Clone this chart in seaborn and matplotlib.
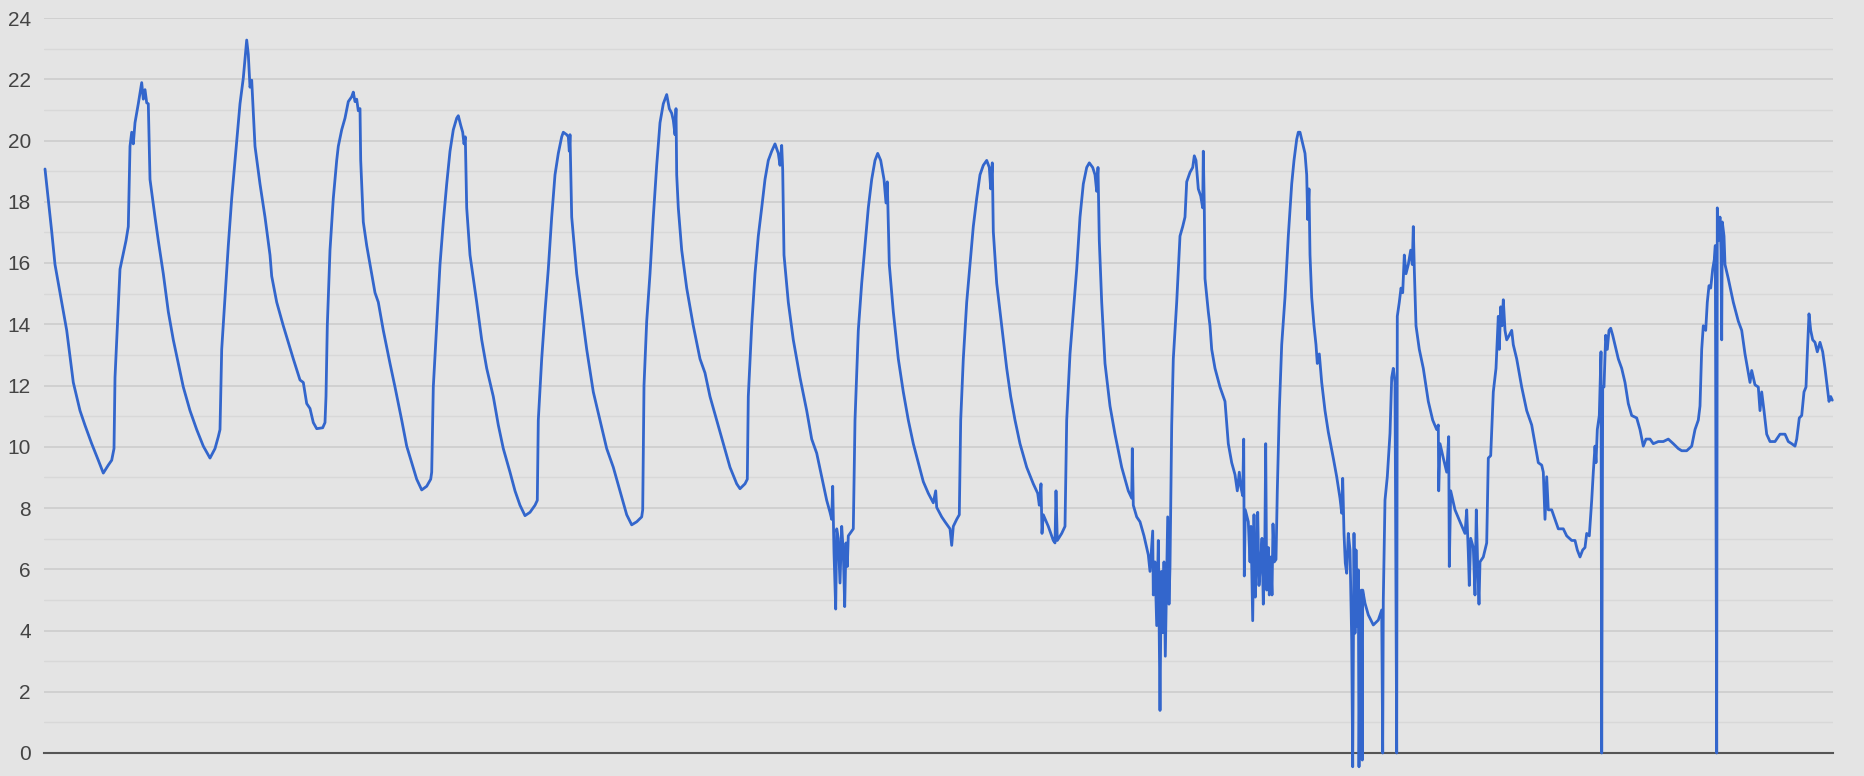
import matplotlib
matplotlib.use("Agg")
import matplotlib.pyplot as plt
import seaborn as sns
import pandas as pd
from matplotlib.ticker import MultipleLocator

# sample position along the (unlabelled) time axis and the temperature value
sample_t = [
    1, 7.7, 11, 17.7, 22.7, 29.3, 36, 41, 47.7, 54.3, 59.3, 64.3, 67.7, 70, 71, 76, 82, 84.3, 86, 87.7,
    89.3, 91, 94.3, 97.7, 99.3, 101, 102.7, 104.3, 106, 111, 114.3, 119.3, 124.3, 129.3, 134.3, 139.3,
    146, 152.7, 159.3, 166, 171, 174.3, 176, 177.7, 181, 184.3, 187.7, 192.7, 196, 199.3, 202.7, 204.3,
    206, 207.7, 211, 216, 221, 226, 227.7, 232.7, 239.3, 249.3, 256, 259.3, 262.7, 266, 269.3, 272.7,
    278.7, 281, 282, 283.3, 286, 289.3, 292.7, 294.3, 297.7, 301,
    304.3, 307.7, 309.3, 311, 312.7, 314.3, 316, 316.7, 319.3, 322.7, 327.7, 331, 334.3, 339.3, 346, 351,
    357.7, 362.7, 367.7, 372.7, 377.7, 382.7, 386.7, 387.7, 389.3, 392.7, 396, 399.3, 402.7, 406, 409.3,
    412.7, 414.3, 416.7, 418.7, 420, 421.3, 422.7, 426, 429.3, 432.7, 437.7, 442.7, 449.3, 454.3, 459.3,
    466, 471, 476, 481, 486, 491, 493.3, 494.3, 497.7, 501, 504.3, 507.7, 511, 514.3, 517.7, 519.3, 522.7,
    524.3, 525.3, 526, 527.7, 532.7, 537.7, 542.7, 549.3, 556, 562.7, 569.3, 576, 582.7, 587.7, 592.7,
    597.7, 598.7, 600,
    602.7, 606, 609.3, 612.7, 616, 619.3, 622.7, 625.3, 627.7, 629.3, 631, 632, 632.7, 634.3, 637.7, 642.7,
    649.3, 656, 661, 666, 672.7, 679.3, 686, 692.7, 696, 701, 703.3, 704.3, 707.7, 711, 714.3, 717.7, 721,
    724.3, 727.7, 731, 734.3, 736, 737.7, 738.7, 740, 744.3, 749.3, 756, 762.7, 767.7, 772.7, 777.7, 782.7,
    786, 787.7, 788.7, 790, 791.7, 792.7, 794.3, 796, 797.7, 799.3, 800.7, 802, 803.3, 804.3, 807.7, 809.3,
    811, 814.3, 817.7, 821, 824.3, 827.7, 831, 833.7, 836.7, 840, 842, 843.3, 845.3, 849.3, 854.3, 859.3,
    864.3, 869.3, 874.3, 879.3, 884.3, 889.3, 891.7, 892.7, 897.7,
    901, 904.3, 906, 907.7, 909.3, 912.7, 915.3, 916.7, 919.3, 922.7, 926, 929.3, 932.7, 936, 939.3, 942.7,
    945.3, 946.7, 948.3, 949.3, 952.7, 957.7, 962.7, 966.7, 971, 976, 982.7, 989.3, 993.7, 995.3, 997, 998,
    999.3, 1004.3, 1009.3, 1011, 1012, 1013.3, 1017.7, 1021, 1022.7, 1026, 1029.3, 1032.7, 1036, 1039.3,
    1042.7, 1045.3, 1048.7, 1051, 1052.7, 1054, 1055.3, 1057.7, 1058.7, 1061, 1066, 1071, 1077.7, 1084.3,
    1087.7, 1088.3, 1089.3, 1092.7, 1096, 1100, 1104.3, 1106, 1108.7, 1109.3, 1111, 1112.7, 1114.3, 1116,
    1117.3, 1118.7, 1120, 1121.3, 1122.7, 1123.7, 1125, 1126, 1127.7, 1129.3, 1132.7, 1136, 1138.7, 1141,
    1142.7, 1146, 1148.7, 1150.3, 1152, 1154.3, 1156.7, 1158.7, 1159.3, 1160.3, 1161, 1164.3, 1166, 1167.7,
    1171, 1176, 1181, 1184.3, 1187.7, 1191, 1193.3, 1195.3, 1196.7, 1198.7, 1199.7, 1200.3, 1201.3, 1204.3,
    1206,
    1207, 1208.7, 1210, 1211.3, 1212.7, 1213.7, 1215, 1216.7, 1218, 1219.3, 1220.7, 1221.7, 1222.7, 1224.3,
    1225.3, 1226.7, 1228, 1229, 1230.3, 1232, 1233.3, 1235.3, 1237.7, 1241, 1244.3, 1247.7, 1250, 1252.7,
    1254.3, 1256, 1258.7, 1261, 1262.7, 1263.7, 1265, 1266, 1267.7, 1270, 1272, 1273.3, 1275.3, 1277.7,
    1281, 1284.3, 1289.3, 1292.7, 1296,
    1297.7, 1298.7, 1300, 1301.3, 1302.7, 1304.3, 1306, 1307.7, 1308.7, 1310, 1311, 1312, 1313.3, 1314.3,
    1315, 1316, 1317.3, 1318.3, 1318.7, 1321, 1324.3, 1329.3, 1334.3, 1337.7, 1338.7, 1339.3, 1341,
    1343.3, 1346,
    1347.7, 1349.3, 1351, 1352.7, 1353.3, 1355.3, 1357, 1358.7, 1360.3, 1362, 1364.3, 1366.7, 1368.3,
    1369.3, 1370.3, 1372, 1375.3, 1379.3, 1384.3, 1388.7, 1392.7, 1394.3, 1394.7, 1396, 1399.3, 1402.7,
    1404.7, 1405.3, 1406.7, 1411, 1416, 1421, 1422.7, 1424.3, 1425.3, 1426.7, 1429.3, 1431, 1432.3, 1433.7,
    1435, 1436, 1439.3, 1442.7, 1444.3, 1446.7, 1449.3, 1452, 1454.3, 1455.3, 1456.7, 1458, 1459.3, 1461,
    1462.7, 1465.3, 1467.7, 1469.3, 1472.7, 1477.7, 1482.7, 1487.7, 1491, 1494.3,
    1497.7, 1499.3, 1501, 1502.7, 1504.3, 1507.7, 1511, 1514.3, 1519.3, 1522.7, 1527.7, 1531, 1533.3, 1536,
    1538.7, 1541, 1542.7, 1545.3, 1547.7, 1549.3, 1551, 1552, 1553.3, 1555.3, 1557, 1557.7, 1558.7, 1560,
    1561.7, 1563.3, 1565, 1566.7, 1568.7, 1571, 1574.3, 1577.7, 1581, 1584.3, 1587.7, 1592.7, 1596, 1599.3,
    1602, 1606, 1609.3, 1614.3, 1619.3, 1624.3, 1629.3, 1634.3, 1637.7, 1642.7, 1647.7, 1651, 1654.3, 1656,
    1657.7, 1659.3, 1661.7, 1663.3, 1665, 1666.7, 1668.7, 1670.3, 1671.3, 1672.7, 1673.3, 1674.3, 1676,
    1677, 1677.7, 1678.3, 1680, 1681, 1684.3, 1689.3, 1694.3, 1697.7, 1701, 1704.3, 1706, 1707.7, 1711,
    1714.3, 1716, 1717.7, 1720, 1722.7, 1726, 1731, 1736, 1741, 1744.3, 1747.7, 1751, 1752.7, 1755.3,
    1757.7, 1760, 1762, 1763.3, 1765, 1766.7, 1768.7, 1771, 1773.3, 1776, 1778.7, 1781, 1783.3, 1785,
    1786.7, 1788.3,
]

temp_c = [
    19.07, 17.03, 15.95, 14.72, 13.80, 12.10, 11.18, 10.70, 10.10, 9.56, 9.14, 9.40, 9.56, 9.94, 12.26,
    15.80, 16.73, 17.19, 19.81, 20.27, 19.89, 20.58, 21.20, 21.89, 21.35, 21.66, 21.23, 21.20, 18.73,
    17.50, 16.73, 15.65, 14.41, 13.49, 12.72, 11.95, 11.18, 10.56, 10.02, 9.63, 9.94, 10.33, 10.56, 13.18,
    14.88, 16.57, 18.11, 19.96, 21.20, 22.04, 23.28, 22.81, 21.74, 21.97, 19.81, 18.58, 17.50, 16.26,
    15.57, 14.72, 13.95, 12.87, 12.18, 12.10, 11.41, 11.25, 10.79, 10.59, 10.62, 10.79, 11.64, 13.95,
    16.42, 18.11, 19.35, 19.81, 20.35, 20.73,
    21.27, 21.43, 21.58, 21.27, 21.35, 20.97, 21.04, 19.35, 17.34, 16.57, 15.65, 15.03, 14.72, 13.80,
    12.72, 11.95, 10.87, 10.02, 9.48, 8.94, 8.59, 8.71, 8.94, 9.17, 11.95, 13.95, 15.95, 17.34, 18.58,
    19.65, 20.35, 20.73, 20.81, 20.50, 20.27, 19.89, 20.12, 17.80, 16.26, 15.49, 14.72, 13.49, 12.56,
    11.64, 10.71, 9.94, 9.17, 8.56, 8.09, 7.75, 7.86, 8.09, 8.25, 10.87, 12.87, 14.41, 15.80, 17.50,
    18.88, 19.58, 20.12, 20.27, 20.19, 20.12, 19.65, 20.19, 17.50, 15.65, 14.41, 13.18, 11.79, 10.87,
    9.94, 9.33, 8.56, 7.78, 7.45, 7.55, 7.71, 7.94, 12.00,
    14.10, 15.65, 17.50, 19.19, 20.58, 21.20, 21.50, 21.04, 20.89, 20.66, 20.19, 21.04, 18.88, 17.80,
    16.42, 15.18, 13.95, 12.87, 12.41, 11.64, 10.87, 10.10, 9.33, 8.79, 8.63, 8.79, 8.94, 11.64, 13.95,
    15.65, 16.88, 17.80, 18.73, 19.35, 19.65, 19.89, 19.58, 19.19, 19.84, 19.04, 16.26, 14.72, 13.49,
    12.26, 11.18, 10.25, 9.79, 9.02, 8.25, 7.86, 7.63, 8.71, 6.55, 4.70, 7.32, 7.01, 5.55, 7.40, 6.55,
    4.78, 6.86, 6.09, 7.09, 7.25, 7.32, 10.87, 13.80, 15.34, 16.57, 17.80, 18.73, 19.35, 19.58, 19.35,
    18.73, 17.96, 18.65, 15.95, 14.41, 12.87, 11.79, 10.87, 10.10, 9.48, 8.86, 8.48, 8.17, 8.56, 8.02,
    7.71,
    7.55, 7.40, 7.32, 6.78, 7.40, 7.63, 7.78, 10.87, 12.87, 14.72, 15.95, 17.19, 18.11, 18.88, 19.19,
    19.35, 19.12, 18.42, 19.27, 17.03, 15.34, 13.95, 12.56, 11.64, 10.87, 10.10, 9.33, 8.79, 8.48, 8.09,
    8.79, 7.17, 7.78, 7.40, 6.94, 6.86, 8.56, 6.94, 7.17, 7.40, 10.87, 13.03, 14.41, 15.80, 17.50, 18.58,
    19.12, 19.27, 19.12, 18.88, 18.34, 19.12, 16.73, 14.72, 14.10, 12.72, 11.33, 10.41, 9.33, 8.56, 8.32,
    9.94, 8.09, 7.71, 7.55, 7.09, 6.47, 5.93, 7.25, 5.16, 6.24, 4.16, 6.94, 1.39, 5.93, 3.93, 6.24, 3.16,
    5.78, 7.71, 4.86, 6.09, 10.71, 12.87, 14.72, 16.88, 17.19, 17.50, 18.65, 18.96, 19.12, 19.50, 19.35,
    18.42, 18.19, 17.80, 19.65, 17.80, 15.49, 14.41, 13.95, 13.18, 12.56, 11.95, 11.48, 10.10, 9.48, 9.09,
    8.56, 9.17, 8.71, 8.40, 10.25, 5.78, 7.94, 7.55, 6.24,
    7.40, 4.32, 7.78, 5.09, 6.40, 7.86, 5.47, 6.24, 7.01, 4.86, 6.40, 10.10, 5.32, 6.71, 5.16, 6.40, 5.16,
    7.48, 6.24, 6.32, 8.56, 11.18, 13.33, 14.88, 16.88, 18.58, 19.35, 20.04, 20.27, 20.27, 19.89, 19.58,
    18.88, 17.42, 18.42, 16.26, 14.88, 13.95, 13.33, 12.72, 13.03, 12.10, 11.18, 10.48, 9.63, 9.02, 8.32,
    7.83, 8.97, 7.17, 6.20, 5.87, 7.17, 6.63, 3.69, -0.45, 7.17, 3.91, 6.63, 4.13, 5.98, -0.45, 4.13, 5.32,
    -0.23, 5.32, 4.89, 4.51, 4.18, 4.34, 4.67, 0.00, 5.00, 8.26, 9.02, 10.44,
    12.26, 12.56, 12.10, 0.00, 14.26, 14.72, 15.18, 15.03, 16.26, 15.65, 15.95, 16.42, 15.95, 17.19, 15.80,
    13.95, 13.18, 12.56, 11.48, 10.87, 10.56, 10.71, 8.56, 10.10, 9.63, 9.17, 10.33, 6.09, 8.56, 7.94,
    7.55, 7.17, 7.94, 6.55, 5.47, 7.01, 6.71, 5.16, 7.94, 6.09, 4.86, 6.24, 6.40, 6.86, 9.63, 9.71, 11.79,
    12.56, 14.26, 13.18, 14.57, 13.95, 14.80, 13.80, 13.49, 13.64, 13.80, 13.33, 12.87, 11.95, 11.18,
    10.71, 10.10, 9.48,
    9.40, 9.17, 7.63, 9.02, 7.94, 7.94, 7.63, 7.32, 7.32, 7.09, 6.94, 6.94, 6.63, 6.40, 6.63, 6.71, 7.17,
    7.09, 8.25, 9.17, 10.02, 9.48, 10.56, 11.02, 13.10, 0.00, 11.95, 11.95, 13.64, 13.18, 13.80, 13.87,
    13.64, 13.33, 12.87, 12.56, 12.10, 11.41, 11.02, 10.94, 10.56, 10.02, 10.25, 10.25, 10.10, 10.17,
    10.17, 10.25, 10.10, 9.94, 9.87, 9.87, 10.02, 10.56, 10.87, 11.33, 13.18, 13.95, 13.80, 14.72, 15.26,
    15.18, 15.80, 16.11, 16.57, 0.00, 17.80, 16.73, 17.50, 16.42, 13.49, 17.34, 16.88, 15.95, 15.49,
    14.72, 14.10, 13.80, 13.03, 12.41, 12.10, 12.49, 12.02, 11.95, 11.18, 11.79, 11.18, 10.41, 10.17,
    10.17, 10.41, 10.41, 10.17, 10.10, 10.02, 10.25, 10.94, 11.02, 11.79, 11.95, 13.03, 14.34, 13.80,
    13.49, 13.41, 13.10, 13.41, 13.10, 12.56, 11.95, 11.48, 11.64, 11.52,
]

y_ticks = [0, 2, 4, 6, 8, 10, 12, 14, 16, 18, 20, 22, 24]

BG = "#e4e4e4"
LINE = "#3366cc"

sns.set_theme(style="white")
plt.rcParams["font.family"] = ["Liberation Sans", "DejaVu Sans"]

W, H = 1864, 776
fig = plt.figure(figsize=(W / 100, H / 100), dpi=100, facecolor=BG)
ax = fig.add_axes([44 / W, 23 / H, 1789 / W, 735 / H])
ax.set_facecolor(BG)

df = pd.DataFrame({"t": sample_t, "temp": temp_c})
sns.lineplot(data=df, x="t", y="temp", ax=ax, color=LINE, linewidth=2.0,
             estimator=None, sort=False)
for ln in ax.lines:
    ln.set_clip_on(False)
    ln.set_zorder(3)
    ln.set_solid_joinstyle("round")

ax.set_xlim(0, 1789)
ax.set_ylim(0, 24)
ax.set_yticks(y_ticks)
ax.yaxis.set_minor_locator(MultipleLocator(1))
ax.set_xticks([])
ax.set_xlabel("")
ax.set_ylabel("")

ax.grid(which="major", axis="y", color="#cbcbcb", linewidth=1.1)
ax.grid(which="minor", axis="y", color="#d8d8d8", linewidth=1.0)
ax.grid(which="both", axis="x", visible=False)
ax.set_axisbelow(True)

for side in ["top", "right", "left"]:
    ax.spines[side].set_visible(False)
ax.spines["bottom"].set_color("#555555")
ax.spines["bottom"].set_linewidth(1.5)
ax.spines["bottom"].set_zorder(2)

ax.tick_params(axis="y", which="both", length=0, pad=9.5, labelsize=15, labelcolor="#444444")
ax.tick_params(axis="x", length=0)

fig.savefig("out.png", dpi=100, facecolor=BG)
